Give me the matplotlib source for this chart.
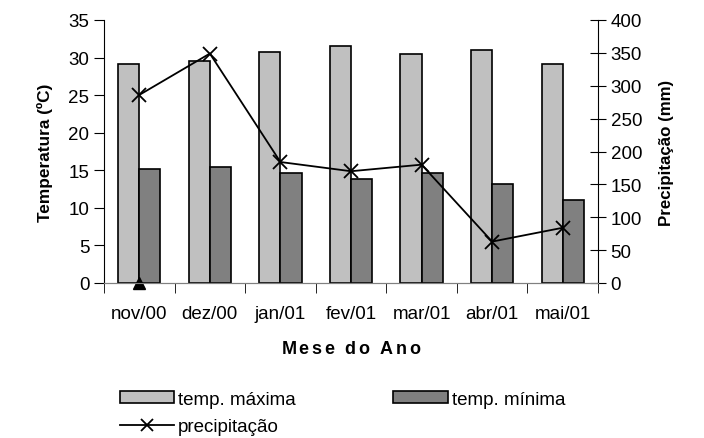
import numpy as np
import matplotlib
matplotlib.use("Agg")
import matplotlib.pyplot as plt
from matplotlib.patches import Patch
from matplotlib.lines import Line2D

plt.rcParams['font.family'] = ['Liberation Sans', 'DejaVu Sans']
plt.rcParams['mathtext.fontset'] = 'custom'
plt.rcParams['mathtext.bf'] = 'Liberation Sans:bold'
plt.rcParams['mathtext.rm'] = 'Liberation Sans'

months = ['nov/00', 'dez/00', 'jan/01', 'fev/01', 'mar/01', 'abr/01', 'mai/01']
temp_max = [29.2, 29.5, 30.8, 31.5, 30.5, 31.0, 29.2]
temp_min = [15.2, 15.4, 14.7, 13.9, 14.7, 13.2, 11.0]
precip = [286, 349, 184, 170, 180, 63, 84]

x = np.arange(len(months))
w = 0.3

fig = plt.figure(figsize=(7.04, 4.39), dpi=100)
ax = fig.add_axes([104/704, 1-284/439, (598-104)/704, (284-21)/439])
ax2 = ax.twinx()

ax.bar(x - w/2, temp_max, w, color='#c0c0c0', edgecolor='black', lw=1.2, zorder=2)
ax.bar(x + w/2, temp_min, w, color='#808080', edgecolor='black', lw=1.2, zorder=2)
# marcador no zero em nov/00
ax.plot([0], [0], marker='^', color='black', ms=9, clip_on=False, zorder=5)

ax2.plot(x, precip, color='black', lw=1.3, marker='x', ms=10, mew=1.3)

ax.set_xlim(-0.5, 6.5)
ax.set_ylim(0, 35)
ax.set_yticks(range(0, 36, 5))
ax2.set_ylim(0, 400)
ax2.set_yticks(range(0, 401, 50))

ax.set_xticks(x)
ax.set_xticklabels(months, fontsize=13.5)
ax.set_xticks(np.arange(-0.5, 7, 1), minor=True)
ax.tick_params(axis='x', which='major', length=0, pad=16)
ax.tick_params(axis='x', which='minor', length=7, direction='out', color='black')
ax.tick_params(axis='y', labelsize=13.5, direction='out', length=7)
ax2.tick_params(axis='y', labelsize=13.5, direction='inout', length=11)

for a in (ax, ax2):
    a.spines['top'].set_visible(False)
    a.spines['bottom'].set_color('#808080')
ax.spines['right'].set_visible(False)
ax2.spines['left'].set_visible(False)

ax.set_ylabel('Temperatura (ºC)', fontsize=12.4, fontweight='bold', labelpad=11)
ax2.set_ylabel('Precipitação (mm)', fontsize=12.2, fontweight='bold', labelpad=12)
ax.set_xlabel(r'$\mathbf{M\,e\,s\,e\;\;d\,o\;\;A\,n\,o}$', fontsize=13, labelpad=13)

handles = [Patch(facecolor='#c0c0c0', edgecolor='black', lw=1.2),
           Line2D([], [], color='black', lw=1.3, marker='x', ms=8, mew=1.3),
           Patch(facecolor='#808080', edgecolor='black', lw=1.2)]
labels = ['temp. máxima', 'precipitação', 'temp. mínima']
fig.legend(handles, labels, ncol=2, loc='upper left', bbox_to_anchor=(120/704, 1-392/439),
           frameon=False, fontsize=13.5, handlelength=2.9, handleheight=0.6,
           columnspacing=5.2, handletextpad=0.2, labelspacing=0.55, borderpad=0,
           borderaxespad=0)

fig.savefig('out.png', dpi=100)
